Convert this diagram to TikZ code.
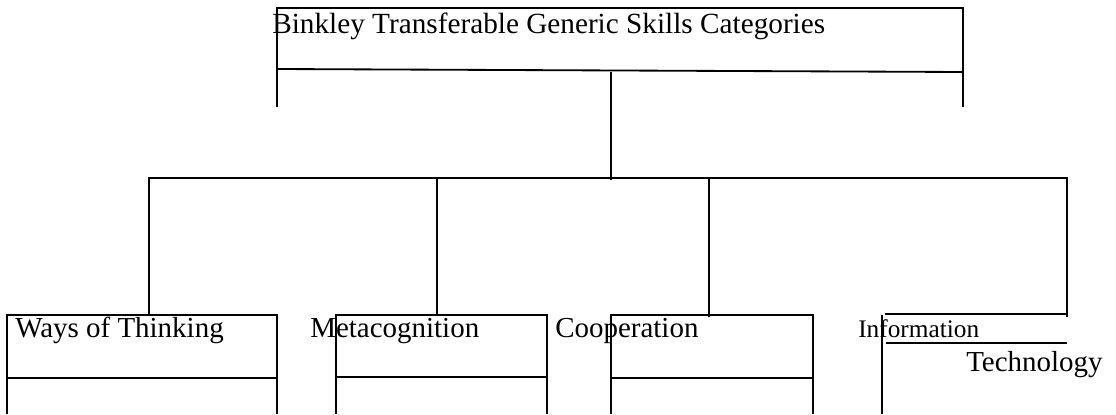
\documentclass[tikz,border=0pt]{standalone}
\usepackage{fontspec}
\setmainfont{Liberation Serif}
\usepackage{tikz}
\usetikzlibrary{positioning}

\tikzset{
	rule/.style={line width=1.3pt, black},
	caption/.style={anchor=base west, inner sep=0pt, font=\fontsize{20.6}{24}\selectfont},
	smallcaption/.style={caption, font=\fontsize{18}{21}\selectfont},
}

\newcommand{\skillbox}[4] % {left}{right}{top}{middle}, open at the bottom
{
	\draw [rule] (#1,414) -- (#1,#3) -- (#2,#3) -- (#2,414);
	\draw [rule] (#1,#4) -- (#2,#4);
}

\begin{document}
\begin{tikzpicture}[x=0.025cm, y=-0.025cm]
	\useasboundingbox (0,0) rectangle (1116,414);

	% heading box
	\draw [rule] (277,107) -- (277,8) -- (963,8) -- (963,107);
	\draw [rule] (277,69) -- (963,72);
	\node [caption, font=\fontsize{20.8}{24}\selectfont] (title) at (272,33) {Binkley Transferable Generic Skills Categories};

	% the four categories
	\skillbox{7.3}{276.7}{315}{378}
	\skillbox{335.7}{546.7}{315}{377}
	\skillbox{611}{813.3}{315}{377.7}
	\draw [rule] (881.7,414) -- (881.7,315);
	\draw [rule] (885,314) -- (1067.3,314);
	\draw [rule] (886,343.3) -- (1067.3,343.3);

	\node [caption] (ways) at (15,337) {Ways of Thinking};
	\node [caption] (meta) at (310,337) {Metacognition};
	\node [caption] (coop) at (555,337) {Cooperation};
	\node [smallcaption] (info) at (858,337.7) {Information};
	\node [caption] (tech) at (966,371) {Technology};

	% tree
	\coordinate (head) at (611,72);
	\coordinate (fork) at (611,177.7);
	\coordinate (ways top) at (149,315);
	\coordinate (meta top) at (437,315);
	\coordinate (coop top) at (709.3,317);
	\coordinate (info top) at (1067.3,316.7);

	\draw [rule] (head) -- (611,180);
	\draw [rule] (ways top) |- (fork) -| (info top);
	\draw [rule] (meta top) -- (meta top |- fork);
	\draw [rule] (coop top) -- (coop top |- fork);

\end{tikzpicture}
\end{document}
